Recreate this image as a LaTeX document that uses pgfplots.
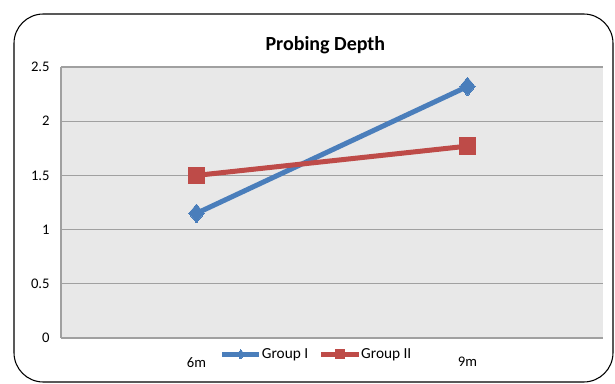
\documentclass[border=0pt]{standalone}
\usepackage{fontspec}
\setmainfont{Carlito}
\usepackage{pgfplots}
\pgfplotsset{compat=1.18}
\definecolor{gI}{HTML}{4A7EBB}
\definecolor{gII}{HTML}{BE4B48}
\definecolor{plotbg}{HTML}{E8E8E8}
\definecolor{gridc}{HTML}{A0A0A0}
\begin{document}
\begin{tikzpicture}
\path[use as bounding box] (-45.75pt,-33.75pt) rectangle (415.5pt,253.5pt);
\draw[black, line width=0.8pt, rounded corners=22pt] (-35.25pt,-33pt) rectangle (414pt,243pt);
\begin{axis}[
  at={(0pt,0pt)}, anchor=south west,
  scale only axis, width=406.5pt, height=203.25pt,
  xmin=-0.5, xmax=1.5, ymin=0, ymax=2.5,
  xtick={0,1}, xticklabels={6m,9m},
  ytick={0,0.5,1,1.5,2,2.5},
  yticklabels={0,0.5,1,1.5,2,2.5},
  major tick length=0pt,
  axis background/.style={fill=plotbg},
  ymajorgrids, grid style={gridc, line width=0.8pt},
  axis x line*=bottom, axis y line*=left,
  axis line style={gridc, line width=0.8pt, -},
  tick label style={font=\fontsize{11}{12}\selectfont},
  /pgf/number format/assume math mode=true,
  xticklabel style={yshift=-11pt},
  yticklabel style={xshift=-5pt},
  title={\textbf{Probing Depth}},
  title style={font=\fontsize{15}{17}\selectfont, yshift=0pt, xshift=-5pt},
  legend style={at={(0.472,-0.06)}, anchor=center, draw=none, fill=none,
    font=\fontsize{11.5}{12}\selectfont, /tikz/every even column/.append style={column sep=6pt},
    /tikz/every odd column/.append style={column sep=-2pt}},
  legend columns=2,
  legend image code/.code={\draw[#1, line width=3pt] (0pt,0pt) -- (28pt,0pt);
     \draw[#1, mark size=3.5pt, mark repeat=2, mark phase=2] plot coordinates {(0pt,0pt) (14pt,0pt) (28pt,0pt)};},
]
\addplot[gI, line width=3.75pt, mark=diamond*, mark size=7pt, mark options={solid, line width=0pt, xscale=1.1}]
  coordinates {(0,1.15) (1,2.32)};
\addlegendentry{Group I}
\addplot[gII, line width=3.75pt, mark=square*, mark size=6.2pt, mark options={solid, line width=0pt}]
  coordinates {(0,1.50) (1,1.77)};
\addlegendentry{Group II}
\end{axis}
\end{tikzpicture}
\end{document}
